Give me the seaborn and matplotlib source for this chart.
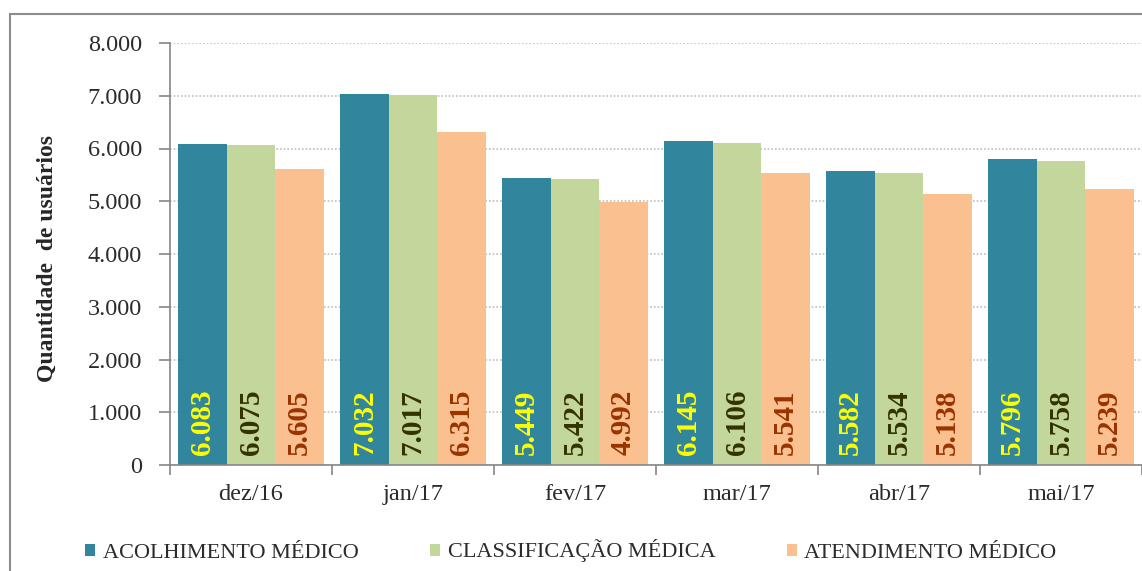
import matplotlib
matplotlib.use('Agg')
import matplotlib.pyplot as plt
import seaborn as sns
import pandas as pd
import numpy as np
from matplotlib.patches import Rectangle, Patch

# ---- data ----
months = ['dez/16', 'jan/17', 'fev/17', 'mar/17', 'abr/17', 'mai/17']
series_names = ['ACOLHIMENTO MÉDICO', 'CLASSIFICAÇÃO MÉDICA', 'ATENDIMENTO MÉDICO']
acolhimento = [6083, 7032, 5449, 6145, 5582, 5796]
classificacao = [6075, 7017, 5422, 6106, 5534, 5758]
atendimento = [5605, 6315, 4992, 5541, 5138, 5239]
yticks = [0, 1000, 2000, 3000, 4000, 5000, 6000, 7000, 8000]
ylabel = 'Quantidade  de usuários'

bar_colors = ['#31859C', '#C3D69B', '#FAC090']
label_colors = ['#FFFF00', '#333300', '#993300']


def fmt(v):
    return f'{v:,}'.replace(',', '.')


sns.set_theme(style='white')
plt.rcParams['font.family'] = ['Liberation Serif', 'DejaVu Serif']

df = pd.DataFrame({
    'mes': months * 3,
    'serie': [s for s in series_names for _ in months],
    'valor': acolhimento + classificacao + atendimento,
})

W, H = 1142, 571
fig = plt.figure(figsize=(W / 100, H / 100), dpi=100)
ax = fig.add_axes([170 / W, 1 - 465 / H, 1 - 170 / W, 422 / H])

sns.barplot(data=df, x='mes', y='valor', hue='serie', order=months,
            hue_order=series_names, palette=bar_colors, saturation=1,
            width=0.9, ax=ax, legend=False, edgecolor='none', errorbar=None)

# value labels inside bars
for cont, col in zip(ax.containers, label_colors):
    for bar, v in zip(cont, cont.datavalues):
        ax.text(bar.get_x() + bar.get_width() / 2, 190, fmt(int(v)),
                rotation=90, ha='center', va='bottom', color=col,
                fontsize=21, fontweight='bold')

ax.set_ylim(0, 8000)
ax.set_xlim(-0.5, len(months) - 0.5)
ax.set_yticks(yticks)
ax.set_yticklabels([fmt(t) for t in yticks])
ax.set_xticks(range(len(months)))
ax.set_xticklabels(months)
ax.set_xticks(np.arange(-0.5, len(months), 1), minor=True)

gray = '#868686'
txt = '#2b2b2b'
ax.tick_params(axis='y', which='major', length=8, width=1.2, color=gray,
               direction='out', pad=12, labelsize=17.5, labelcolor=txt, left=True)
ax.tick_params(axis='x', which='major', length=0, pad=14, labelsize=17.5,
               labelcolor=txt)
ax.tick_params(axis='x', which='minor', length=7, width=1.2, color=gray,
               direction='out', bottom=True)

ax.set_xlabel('')
ax.set_ylabel(ylabel, fontsize=17, fontweight='bold', color='#262626')
ax.yaxis.set_label_coords((47 - 170) / (W - 170), (465 - 258) / 422)
ax.yaxis.label.set_verticalalignment('center')

ax.yaxis.grid(True, linestyle=(0, (1, 1.2)), color='#BFBFBF', linewidth=1.2)
ax.xaxis.grid(False)
ax.set_axisbelow(True)

for s in ['top', 'right']:
    ax.spines[s].set_visible(False)
for s in ['left', 'bottom']:
    ax.spines[s].set_color(gray)
    ax.spines[s].set_linewidth(1.2)

# outer chart frame (cropped at right/bottom)
fig.patches.append(Rectangle((10 / W, -0.05), 1.2, (1 - 14 / H) + 0.05,
                             transform=fig.transFigure, fill=False,
                             edgecolor='#8c8c8c', linewidth=1.5))

handles = [Patch(facecolor=c, edgecolor='none') for c in bar_colors]
leg = fig.legend(handles, series_names, loc='center',
                 bbox_to_anchor=(0.5, 1 - 551 / H), ncol=3, frameon=False,
                 fontsize=16, handlelength=0.45, handleheight=0.45,
                 handletextpad=0.35, columnspacing=3.2)
for t in leg.get_texts():
    t.set_color(txt)

fig.savefig('out.png', dpi=100)
